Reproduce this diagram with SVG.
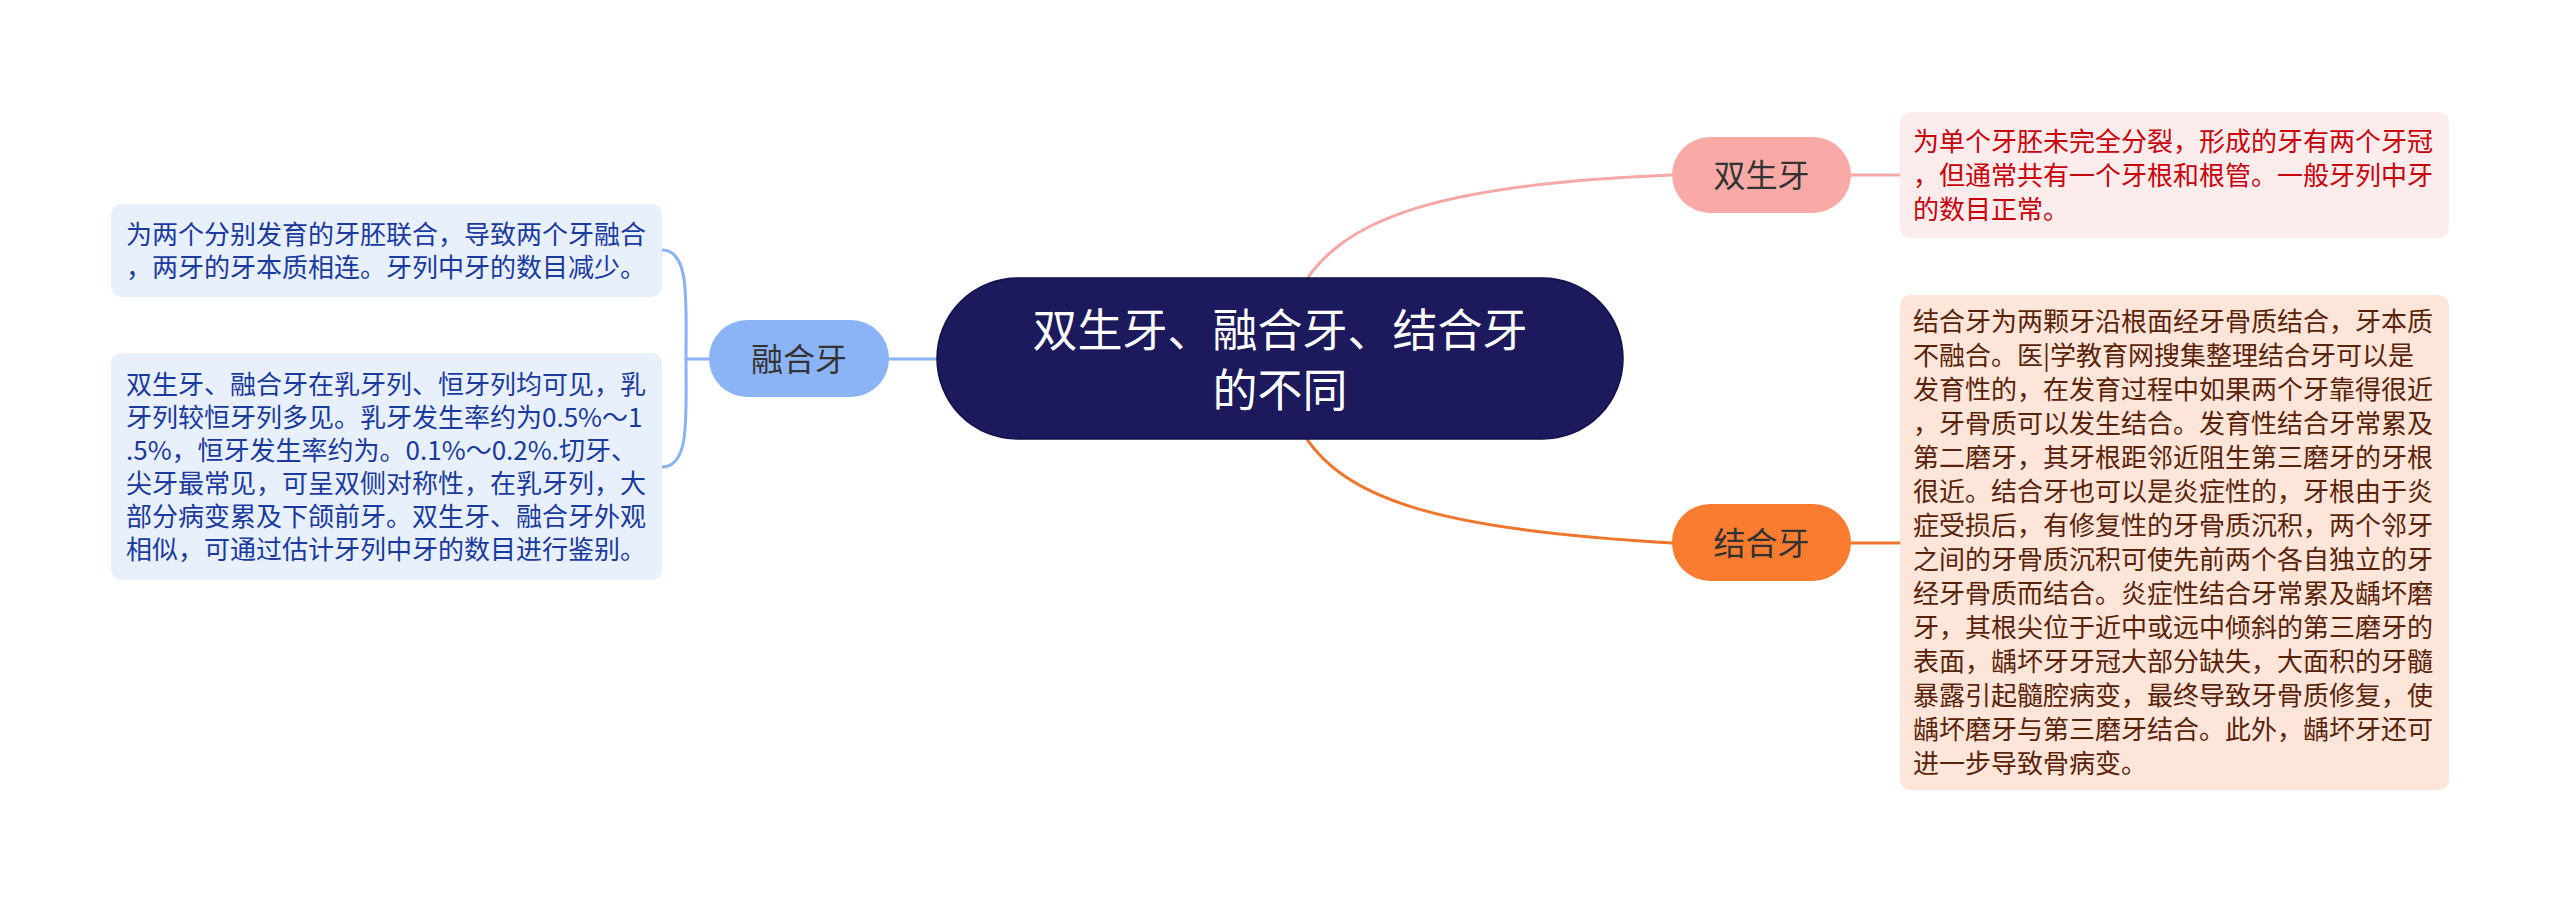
<svg xmlns="http://www.w3.org/2000/svg" width="2560" height="903" viewBox="0 0 2560 903">
<style>
text { font-family: "Noto Sans CJK SC", "Noto Sans", sans-serif; }
.desc { font-size: 26px; }
.node-label { font-size: 32px; fill: #333333; text-anchor: middle; }
.center-label { font-size: 45px; fill: #ffffff; text-anchor: middle; }
.conn { fill: none; stroke-width: 3; stroke-linecap: round; }
.pink { stroke: #f5a8a6; }
.orange { stroke: #f0762c; }
.blue { stroke: #8ab3f5; }
.t-red { fill: #c8000a; }
.t-brown { fill: #5a2308; }
.t-blue { fill: #1a3a9e; }
</style>
<rect width="2560" height="903" fill="#ffffff"/>
<g id="connectors">
  <path class="conn pink" d="M1300,290 C1340,218 1440,184 1672,175"/>
  <path class="conn pink" d="M1851,175 L1900,175"/>
  <path class="conn orange" d="M1300,428 C1340,500 1440,530 1672,543"/>
  <path class="conn orange" d="M1851,543 L1900,543"/>
  <path class="conn blue" d="M937,359 L889,359"/>
  <path class="conn blue" d="M709,359 L686,359"/>
  <path class="conn blue" d="M662,250 C690,250 686,300 686,359 C686,418 690,467 662,467"/>
</g>
<g id="node-center">
  <rect x="937" y="278" width="686" height="161" rx="80.5" fill="#1c1a5c" stroke="#12124a" stroke-width="1.5"/>
  <text class="center-label" x="1280" y="347">双生牙、融合牙、结合牙</text>
  <text class="center-label" x="1280" y="407">的不同</text>
</g>
<g id="node-shuangshengya">
  <rect x="1672" y="137" width="179" height="76" rx="38" fill="#f9aaa6"/>
  <text class="node-label" x="1761.5" y="187">双生牙</text>
</g>
<g id="node-jieheya">
  <rect x="1672" y="504" width="179" height="77" rx="38" fill="#f97c30"/>
  <text class="node-label" x="1761.5" y="555">结合牙</text>
</g>
<g id="node-rongheya">
  <rect x="709" y="320" width="180" height="77" rx="38" fill="#8bb4f7"/>
  <text class="node-label" x="799" y="371">融合牙</text>
</g>
<g id="desc-shuangshengya">
  <rect x="1900" y="112" width="549" height="126" rx="10" fill="#fdecec"/>
  <text class="desc t-red">
    <tspan x="1913" y="150.5">为单个牙胚未完全分裂，形成的牙有两个牙冠</tspan>
    <tspan x="1913" y="184.5">，但通常共有一个牙根和根管。一般牙列中牙</tspan>
    <tspan x="1913" y="218.5">的数目正常。</tspan>
  </text>
</g>
<g id="desc-jieheya">
  <rect x="1900" y="295" width="549" height="495" rx="10" fill="#fde5d9"/>
  <text class="desc t-brown">
    <tspan x="1913" y="331">结合牙为两颗牙沿根面经牙骨质结合，牙本质</tspan>
    <tspan x="1913" y="365">不融合。医|学教育网搜集整理结合牙可以是</tspan>
    <tspan x="1913" y="399">发育性的，在发育过程中如果两个牙靠得很近</tspan>
    <tspan x="1913" y="433">，牙骨质可以发生结合。发育性结合牙常累及</tspan>
    <tspan x="1913" y="467">第二磨牙，其牙根距邻近阻生第三磨牙的牙根</tspan>
    <tspan x="1913" y="501">很近。结合牙也可以是炎症性的，牙根由于炎</tspan>
    <tspan x="1913" y="535">症受损后，有修复性的牙骨质沉积，两个邻牙</tspan>
    <tspan x="1913" y="569">之间的牙骨质沉积可使先前两个各自独立的牙</tspan>
    <tspan x="1913" y="603">经牙骨质而结合。炎症性结合牙常累及龋坏磨</tspan>
    <tspan x="1913" y="637">牙，其根尖位于近中或远中倾斜的第三磨牙的</tspan>
    <tspan x="1913" y="671">表面，龋坏牙牙冠大部分缺失，大面积的牙髓</tspan>
    <tspan x="1913" y="705">暴露引起髓腔病变，最终导致牙骨质修复，使</tspan>
    <tspan x="1913" y="739">龋坏磨牙与第三磨牙结合。此外，龋坏牙还可</tspan>
    <tspan x="1913" y="773">进一步导致骨病变。</tspan>
  </text>
</g>
<g id="desc-rongheya-1">
  <rect x="111" y="204" width="551" height="93" rx="10" fill="#e8f0fd"/>
  <text class="desc t-blue">
    <tspan x="126" y="243.5">为两个分别发育的牙胚联合，导致两个牙融合</tspan>
    <tspan x="126" y="276.5">，两牙的牙本质相连。牙列中牙的数目减少。</tspan>
  </text>
</g>
<g id="desc-rongheya-2">
  <rect x="111" y="353" width="551" height="227" rx="10" fill="#e8f0fd"/>
  <text class="desc t-blue">
    <tspan x="126" y="393.5">双生牙、融合牙在乳牙列、恒牙列均可见，乳</tspan>
    <tspan x="126" y="426.5">牙列较恒牙列多见。乳牙发生率约为0.5%～1</tspan>
    <tspan x="126" y="459.5">.5%，恒牙发生率约为。0.1%～0.2%.切牙、</tspan>
    <tspan x="126" y="492.5">尖牙最常见，可呈双侧对称性，在乳牙列，大</tspan>
    <tspan x="126" y="525.5">部分病变累及下颌前牙。双生牙、融合牙外观</tspan>
    <tspan x="126" y="558.5">相似，可通过估计牙列中牙的数目进行鉴别。</tspan>
  </text>
</g>
</svg>
